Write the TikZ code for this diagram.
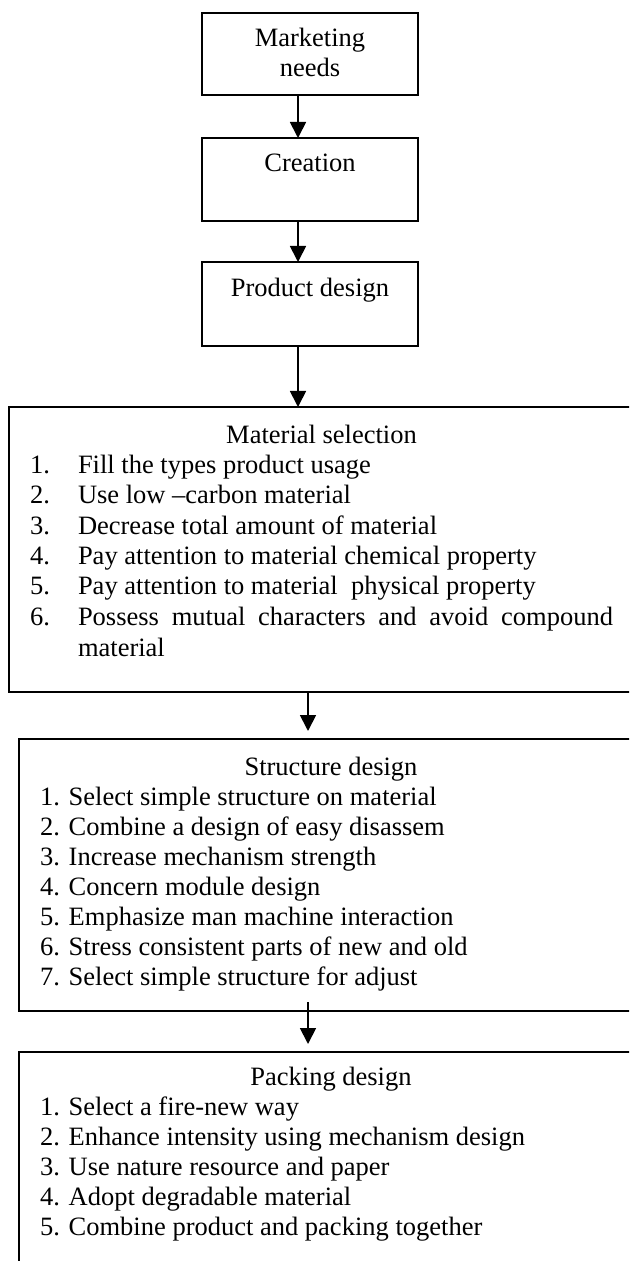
\documentclass[tikz,border=0pt]{standalone}
\usepackage{fontspec}
\setmainfont{Liberation Serif}
\usetikzlibrary{arrows.meta}
\begin{document}
\begin{tikzpicture}[x=0.5pt,y=-0.5pt,
  box/.style={draw, line width=0.9pt, rectangle, anchor=north west, inner sep=0pt, outer sep=0pt},
  txt/.style={inner sep=0pt, outer sep=0pt, font=\fontsize{13.25pt}{15pt}\selectfont},
  ctr/.style={txt, anchor=base},
  lft/.style={txt, anchor=base west},
  arr/.style={line width=0.9pt, -{Triangle[length=8pt,width=8pt]}}]
\useasboundingbox (0,0) rectangle (629,1261);
\clip (0,0) rectangle (629,1261);
% boxes
\node[box, minimum width=108pt, minimum height=41pt] (b1) at (202,13) {};
\node[box, minimum width=108pt, minimum height=41.5pt] (b2) at (202,138) {};
\node[box, minimum width=108pt, minimum height=42pt] (b3) at (202,262) {};
\node[box, minimum width=326pt, minimum height=142.5pt] (b4) at (9,407) {};
\node[box, minimum width=321pt, minimum height=136pt] (b5) at (19,739) {};
\node[box, minimum width=321pt, minimum height=130pt] (b6) at (19,1052) {};
% texts top boxes
\node[ctr] (t1a) at (310,47) {Marketing};
\node[ctr] (t1b) at (310,77) {needs};
\node[ctr] (t2) at (310,172) {Creation};
\node[ctr] (t3) at (310,297) {Product design};
% material selection
\node[ctr] (m0) at (321.5,443) {Material selection};
\node[lft] (n1) at (30,473) {1.};
\node[lft] (m1) at (78,473) {Fill the types product usage};
\node[lft] (n2) at (30,503) {2.};
\node[lft] (m2) at (78,503) {Use low \textendash carbon material};
\node[lft] (n3) at (30,534) {3.};
\node[lft] (m3) at (78,534) {Decrease total amount of material};
\node[lft] (n4) at (30,564) {4.};
\node[lft] (m4) at (78,564) {Pay attention to material chemical property};
\node[lft] (n5) at (30,594) {5.};
\node[lft] (m5) at (78,594) {Pay attention to material\ \ physical property};
\node[lft] (n6) at (30,625) {6.};
\node[lft] (m6) at (78,625) {\hbox to 267.5pt{Possess\hfill mutual\hfill characters\hfill and\hfill avoid\hfill compound}};
\node[lft] (m7) at (78,656) {material};
% structure design
\node[ctr] (s0) at (331,775) {Structure design};
\node[lft] (s1) at (40,805) {1. Select simple structure on material};
\node[lft] (s2) at (40,835) {2. Combine a design of easy disassem};
\node[lft] (s3) at (40,865) {3. Increase mechanism strength};
\node[lft] (s4) at (40,895) {4. Concern module design};
\node[lft] (s5) at (40,925) {5. Emphasize man machine interaction};
\node[lft] (s6) at (40,955) {6. Stress consistent parts of new and old};
\node[lft] (s7) at (40,985) {7. Select simple structure for adjust};
% packing design
\node[ctr] (p0) at (331,1085) {Packing design};
\node[lft] (p1) at (40,1115) {1. Select a fire-new way};
\node[lft] (p2) at (40,1145) {2. Enhance intensity using mechanism design};
\node[lft] (p3) at (40,1175) {3. Use nature resource and paper};
\node[lft] (p4) at (40,1205) {4. Adopt degradable material};
\node[lft] (p5) at (40,1235) {5. Combine product and packing together};
% arrows
\coordinate (ax) at (298,0);
\coordinate (bx) at (308,0);
\draw[arr] (b1.south -| ax) -- (b2.north -| ax);
\draw[arr] (b2.south -| ax) -- (b3.north -| ax);
\draw[arr] (b3.south -| ax) -- (b4.north -| ax);
\draw[arr, shorten >=4pt] (b4.south -| bx) -- (b5.north -| bx);
\draw[arr, shorten <=-4.5pt, shorten >=4pt] (b5.south -| bx) -- (b6.north -| bx);
\end{tikzpicture}
\end{document}
